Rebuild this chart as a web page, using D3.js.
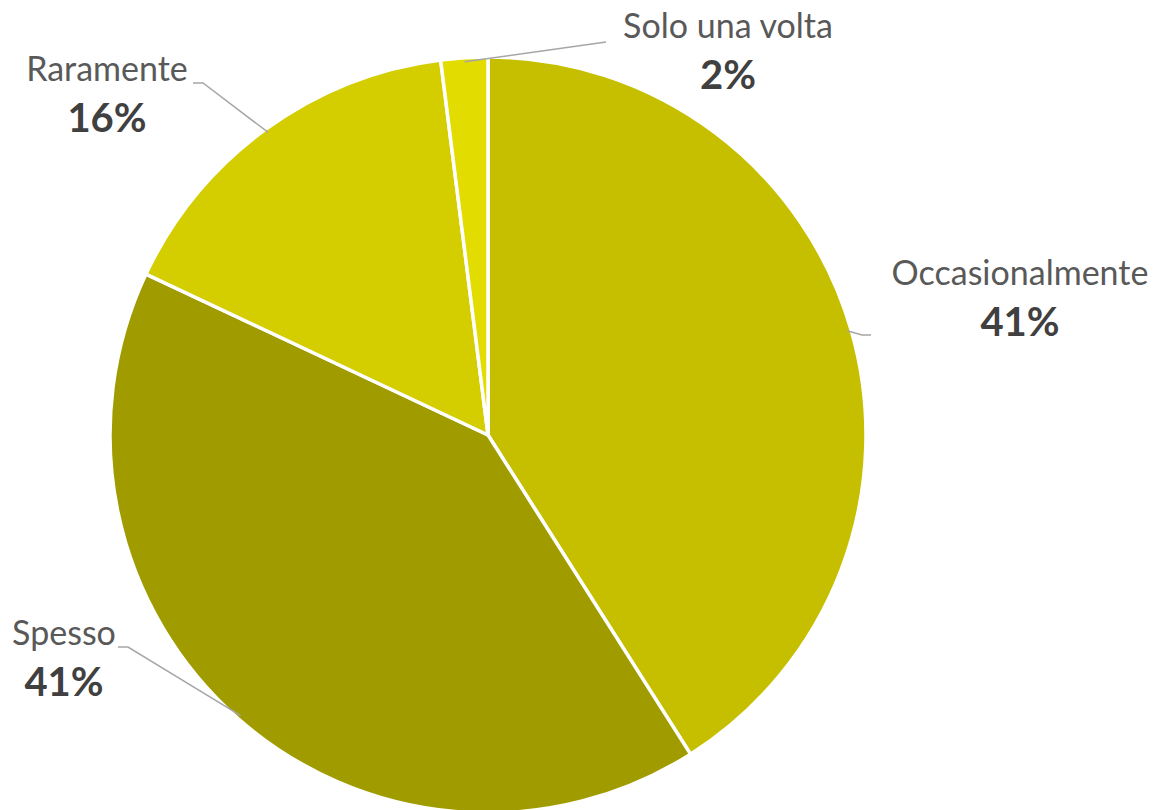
<!DOCTYPE html>
<html>
<head>
<meta charset="utf-8">
<script src="https://cdn.jsdelivr.net/npm/d3@7"></script>
<style>
  html, body { margin: 0; padding: 0; background: #fff; }
  svg { display: block; }
</style>
</head>
<body>
<svg id="chart" width="1153" height="810"></svg>
<script>
// Frequency shares, clockwise from 12 o'clock
const categories = ["Occasionalmente", "Spesso", "Raramente", "Solo una volta"];
const values = [41, 41, 16, 2];
const colors = ["#C5BF00", "#A09C00", "#D4CD00", "#E2DC00"];

// Label anchor points (name baseline, percentage below) and leader elbows
const labelLayout = [
  { x: 1020, y: 285, elbow: [[871, 335], [862, 335]] },
  { x: 64,   y: 645, elbow: [[118, 647], [128, 647]] },
  { x: 107,  y: 81,  elbow: [[193, 83], [203, 83]] },
  { x: 728,  y: 38,  elbow: [[606, 42]] }
];

const cx = 488, cy = 435, radius = 378;
const svg = d3.select("#chart");
const g = svg.append("g").attr("transform", `translate(${cx},${cy})`);

const pie = d3.pie().sort(null).value(d => d.value);
const arcs = pie(categories.map((c, i) => ({ name: c, value: values[i], color: colors[i] })));
const arc = d3.arc().innerRadius(0).outerRadius(radius);

g.selectAll("path.slice")
  .data(arcs)
  .join("path")
  .attr("class", "slice")
  .attr("d", arc)
  .attr("fill", d => d.data.color)
  .attr("stroke", "#fff")
  .attr("stroke-width", 3.5)
  .attr("stroke-linejoin", "round");

// Leader lines: from label elbow to the slice edge at its mid angle
arcs.forEach((d, i) => {
  const mid = (d.startAngle + d.endAngle) / 2;
  const rr = radius - 4;
  const px = cx + rr * Math.sin(mid), py = cy - rr * Math.cos(mid);
  const pts = labelLayout[i].elbow.concat([[px, py]]);
  svg.append("path")
    .attr("d", d3.line()(pts))
    .attr("fill", "none")
    .attr("stroke", "#A6A6A6")
    .attr("stroke-width", 1.5);
});

const fmt = d3.format(".0%");
arcs.forEach((d, i) => {
  const L = labelLayout[i];
  const t = svg.append("text")
    .attr("x", L.x).attr("y", L.y)
    .attr("text-anchor", "middle")
    .attr("font-family", "Lato, 'Open Sans', sans-serif");
  t.append("tspan")
    .attr("x", L.x)
    .attr("font-size", 34)
    .attr("fill", "#595959")
    .text(d.data.name);
  t.append("tspan")
    .attr("x", L.x)
    .attr("dy", 51)
    .attr("font-size", 40)
    .attr("font-weight", "bold")
    .attr("fill", "#404040")
    .text(fmt(d.data.value / 100));
});
</script>
</body>
</html>
